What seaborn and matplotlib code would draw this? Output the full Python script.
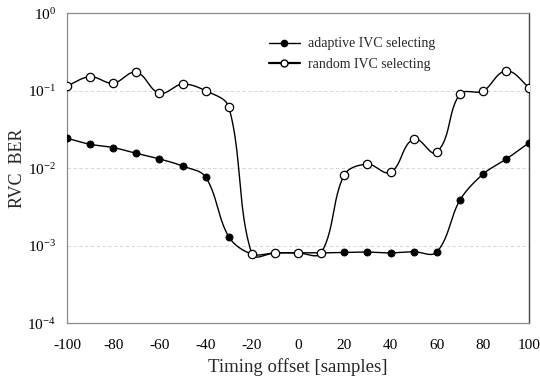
import numpy as np
import pandas as pd
import matplotlib
matplotlib.use("Agg")
import matplotlib.pyplot as plt
from matplotlib.lines import Line2D
import seaborn as sns

# ---- data ----
offsets = [-100, -90, -80, -70, -60, -50, -40, -30, -20, -10, 0, 10,
           20, 30, 40, 50, 60, 70, 80, 90, 100]
adaptive_ber = [0.0244, 0.0204, 0.0185, 0.0156, 0.0132, 0.0107, 0.0077, 0.00131,
                0.00078, 0.00081, 0.00081, 0.00081, 0.00082, 0.00083, 0.00081,
                0.00084, 0.00083, 0.00387, 0.0084, 0.0131, 0.0214]
random_ber = [0.115, 0.152, 0.125, 0.173, 0.093, 0.122, 0.100, 0.062,
              0.00078, 0.00081, 0.00081, 0.00081, 0.0082, 0.0113, 0.0089,
              0.0237, 0.0161, 0.090, 0.099, 0.180, 0.110]
series_names = ["adaptive IVC selecting", "random IVC selecting"]
xticks = [-100, -80, -60, -40, -20, 0, 20, 40, 60, 80, 100]
yticks = [1e-4, 1e-3, 1e-2, 1e-1, 1e0]
ytick_labels = [r"$10^{-4}$", r"$10^{-3}$", r"$10^{-2}$", r"$10^{-1}$", r"$10^{0}$"]


def smooth(xs, ys, n=24, sx=2.313, sy=77.5):
    """Spreadsheet-style smoothed line, computed in screen-like space
    (x scaled, log10 y scaled); used only for drawing the connecting line."""
    px = np.asarray(xs, float) * sx
    py = np.log10(np.asarray(ys, float)) * sy
    P = np.column_stack([px, py])
    m = len(P)
    T = np.zeros_like(P)
    for i in range(m):
        a = P[max(i - 1, 0)]
        b = P[min(i + 1, m - 1)]
        d = b - a
        T[i] = d / (np.linalg.norm(d) + 1e-12)
    out = []
    for i in range(m - 1):
        p1, p2 = P[i], P[i + 1]
        L = np.linalg.norm(p2 - p1)
        c1 = p1 + T[i] * L / 3.0
        c2 = p2 - T[i + 1] * L / 3.0
        t = np.linspace(0, 1, n, endpoint=(i == m - 2))[:, None]
        seg = ((1 - t) ** 3) * p1 + 3 * ((1 - t) ** 2) * t * c1 + 3 * (1 - t) * t ** 2 * c2 + t ** 3 * p2
        out.append(seg)
    S = np.vstack(out)
    return S[:, 0] / sx, 10 ** (S[:, 1] / sy)


sns.set_theme(style="white")
plt.rcParams["font.family"] = ["Liberation Serif", "DejaVu Serif"]
plt.rcParams["mathtext.fontset"] = "custom"
plt.rcParams["mathtext.rm"] = "Liberation Serif"
plt.rcParams["mathtext.it"] = "Liberation Serif:italic"

fig = plt.figure(figsize=(5.40, 3.79), dpi=100)
ax = fig.add_axes([0.124, 0.147, 0.856, 0.818])
ax.set_yscale("log")

# gridlines
for yv in [1e-3, 1e-2, 1e-1]:
    ax.axhline(yv, color="#d0d0d0", lw=0.6, ls=(0, (4, 3)), zorder=0)

# smoothed connecting lines
ax_x, ax_y = smooth(offsets, adaptive_ber)
rx, ry = smooth(offsets, random_ber)
sns.lineplot(x=ax_x, y=ax_y, sort=False, estimator=None, color="black", lw=1.0, ax=ax, zorder=2)
sns.lineplot(x=rx, y=ry, sort=False, estimator=None, color="black", lw=1.0, ax=ax, zorder=3)

# markers
df_a = pd.DataFrame({"x": offsets, "y": adaptive_ber})
df_r = pd.DataFrame({"x": offsets, "y": random_ber})
sns.scatterplot(data=df_a, x="x", y="y", marker="o", s=26, color="black",
                edgecolor="black", linewidth=0.6, ax=ax, zorder=4)
sns.scatterplot(data=df_r, x="x", y="y", marker="o", s=36, color="white",
                edgecolor="black", linewidth=0.9, ax=ax, zorder=5)

ax.set_xlim(-100, 100)
ax.set_ylim(1e-4, 1e0)
ax.set_xticks(xticks)
ax.set_xticklabels([str(v) for v in xticks])
ax.set_yticks(yticks)
ax.set_yticklabels(ytick_labels)
ax.minorticks_off()
ax.tick_params(axis="both", length=0, labelsize=11, colors="black")
ax.tick_params(axis="x", pad=11)
ax.tick_params(axis="y", pad=8)

ax.set_xlabel("Timing offset [samples]", fontsize=13.5)
ax.xaxis.set_label_coords(0.5, -0.113)
ax.set_ylabel("RVC  BER", fontsize=13)
ax.yaxis.set_label_coords(-0.088, 0.5)

for side in ["left", "top", "bottom"]:
    ax.spines[side].set_color("#8a8a8a")
    ax.spines[side].set_linewidth(0.9)
ax.spines["top"].set_linestyle((0, (3, 1)))
ax.spines["bottom"].set_linestyle((0, (3, 1)))
ax.spines["right"].set_color("#444444")
ax.spines["right"].set_linewidth(1.0)

handles = [
    Line2D([], [], color="black", lw=1.0, marker="o", markersize=4.5,
           markerfacecolor="black", markeredgecolor="black"),
    Line2D([], [], color="black", lw=1.6, marker="o", markersize=5,
           markerfacecolor="white", markeredgecolor="black"),
]
leg = ax.legend(handles, series_names, loc="upper left", bbox_to_anchor=(0.425, 0.94),
                frameon=False, fontsize=10, handlelength=2.2, handletextpad=0.6,
                labelspacing=0.55, borderaxespad=0)

fig.savefig("out.png", dpi=100)
